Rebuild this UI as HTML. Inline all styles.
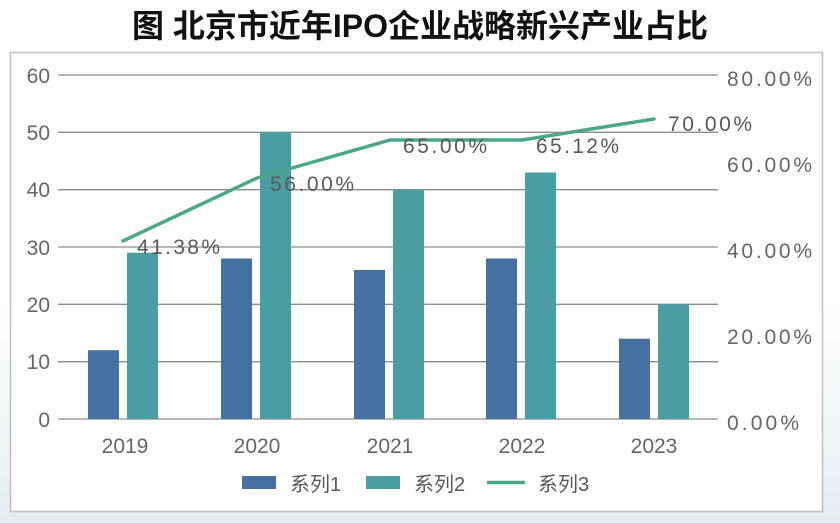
<!DOCTYPE html>
<html><head><meta charset="utf-8"><style>
html,body{margin:0;padding:0;background:#fff;}
body{width:840px;height:523px;overflow:hidden;position:relative;font-family:"Liberation Sans","Noto Sans CJK SC",sans-serif;}
</style></head><body>
<svg width="840" height="523" xmlns="http://www.w3.org/2000/svg" style="position:absolute;left:0;top:0">
<defs><linearGradient id="bg" x1="0" y1="0" x2="0" y2="1"><stop offset="0" stop-color="#fff"/><stop offset="1" stop-color="#e3eef2"/></linearGradient></defs>
<rect x="0" y="300" width="840" height="223" fill="url(#bg)"/>
<rect x="10.5" y="52.5" width="812" height="459" fill="#fff" stroke="#bfbfbf" stroke-width="1.5"/>
<text x="420" y="37" text-anchor="middle" font-family="Liberation Sans,Noto Sans CJK SC,sans-serif" font-weight="bold" font-size="32" fill="#111">图 北京市近年IPO企业战略新兴产业占比</text>
<g stroke="#8c8c8c" stroke-width="1.3">
<line x1="58" x2="718" y1="75" y2="75"/><line x1="58" x2="718" y1="132.3" y2="132.3"/><line x1="58" x2="718" y1="189.7" y2="189.7"/><line x1="58" x2="718" y1="247" y2="247"/><line x1="58" x2="718" y1="304.3" y2="304.3"/><line x1="58" x2="718" y1="361.7" y2="361.7"/><line x1="58" x2="718" y1="419" y2="419"/>
</g>
<g font-size="21" fill="#666" text-anchor="end">
<text x="50" y="83">60</text><text x="50" y="140">50</text><text x="50" y="197">40</text><text x="50" y="255">30</text><text x="50" y="312">20</text><text x="50" y="369">10</text><text x="50" y="427">0</text>
</g>
<g font-size="21" fill="#666">
<text x="727" y="86" textLength="85">80.00%</text><text x="727" y="172" textLength="85">60.00%</text><text x="727" y="258" textLength="85">40.00%</text><text x="727" y="344" textLength="85">20.00%</text><text x="727" y="430" textLength="72">0.00%</text>
</g>
<g fill="#44719f">
<rect x="88" y="350.2" width="31" height="68.8"/><rect x="221" y="258.5" width="31" height="160.5"/><rect x="354" y="269.9" width="31" height="149.1"/><rect x="486" y="258.5" width="31" height="160.5"/><rect x="619" y="338.7" width="31" height="80.3"/>
</g>
<g fill="#4a9da2">
<rect x="127" y="252.7" width="31" height="166.3"/><rect x="260" y="132.3" width="31" height="286.7"/><rect x="393" y="189.7" width="31" height="229.3"/><rect x="525" y="172.5" width="31" height="246.5"/><rect x="658" y="304.3" width="31" height="114.7"/>
</g>
<polyline points="123,241 257,178 390,140 522,140 654,119" fill="none" stroke="#4aa788" stroke-width="3.5" stroke-linejoin="round" stroke-linecap="round"/>
<g font-size="21" fill="#595959">
<text x="137" y="254" textLength="83">41.38%</text><text x="270" y="191" textLength="84">56.00%</text><text x="403" y="153" textLength="84">65.00%</text><text x="536" y="153" textLength="83">65.12%</text><text x="668" y="131" textLength="84">70.00%</text>
</g>
<g font-size="21" fill="#666" text-anchor="middle">
<text x="125" y="453">2019</text><text x="257" y="453">2020</text><text x="390" y="453">2021</text><text x="522" y="453">2022</text><text x="654" y="453">2023</text>
</g>
<rect x="242" y="476" width="34" height="13" fill="#44719f"/>
<text x="290" y="491" font-size="20" fill="#595959" font-family="Liberation Sans,Noto Sans CJK SC,sans-serif">系列1</text>
<rect x="366" y="476" width="34" height="13" fill="#4a9da2"/>
<text x="414" y="491" font-size="20" fill="#595959" font-family="Liberation Sans,Noto Sans CJK SC,sans-serif">系列2</text>
<line x1="487" x2="525" y1="482.5" y2="482.5" stroke="#4aa788" stroke-width="3.5"/>
<text x="538" y="491" font-size="20" fill="#595959" font-family="Liberation Sans,Noto Sans CJK SC,sans-serif">系列3</text>
</svg>
</body></html>
